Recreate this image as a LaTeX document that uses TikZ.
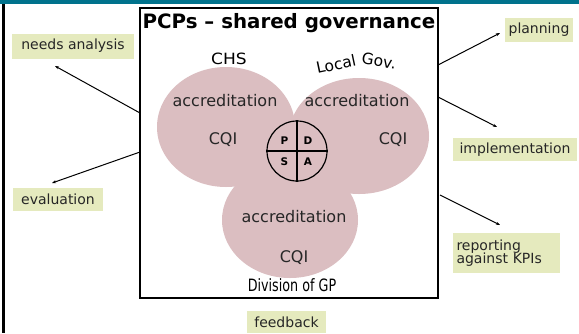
\documentclass[tikz,border=0pt]{standalone}
\usepackage{fontspec}
\setmainfont{DejaVu Sans}
\usetikzlibrary{arrows.meta}
\definecolor{teal1}{HTML}{00728C}
\definecolor{pinkc}{HTML}{DBBEC1}
\definecolor{lab}{HTML}{E5EABE}
\tikzset{
  lbl/.style={fill=lab,inner sep=0pt,font=\fontsize{14}{16}\selectfont,text=black!85},
  conn/.style={line width=1pt,-{Stealth[length=4pt,width=3pt]}},
  blob/.style={fill=pinkc,draw=none},
  body/.style={font=\fontsize{16}{18}\selectfont,text=black!85},
  pd/.style={font=\bfseries\fontsize{10.5}{12}\selectfont,text=black},
  wa/.style={font=\fontsize{15.5}{17}\selectfont},
}
\begin{document}
\begin{tikzpicture}[x=1pt,y=-1pt]
\useasboundingbox (0,0) rectangle (579,333);
\fill[white] (0,0) rectangle (579,333);
\fill[teal1] (0,0) rectangle (579,4);
\fill[black] (2,4) rectangle (4.5,333);
% blobs
\fill[blob] (226,127) ellipse [x radius=69,y radius=60];
\fill[blob] (359,136) ellipse [x radius=70,y radius=58];
\fill[blob] (290,220) ellipse [x radius=68,y radius=58];
\fill[blob] (297,151) circle [radius=32];
% main box
\node[draw,line width=2pt,minimum width=298,minimum height=290,inner sep=0pt] (box) at (289,153) {};
\node[font=\bfseries\fontsize{19.8}{22}\selectfont] (title) at (289,23) {PCPs – shared governance};
% circle labels
\node[wa,xscale=1.1] (chs) at (229,59) {CHS};
\node[wa,rotate=12] (lgov1) at (336,64) {Local};
\node[wa,rotate=-9] (lgov2) at (379,61) {Gov.};
\node[font=\fontsize{17}{18}\selectfont,xscale=0.75] (div) at (292,285) {Division of GP};
% texts
\node[body] (acc1) at (225,101) {accreditation};
\node[body] (cqi1) at (223,140) {CQI};
\node[body] (acc2) at (357,101) {accreditation};
\node[body] (cqi2) at (393,140) {CQI};
\node[body] (acc3) at (294,217) {accreditation};
\node[body] (cqi3) at (294,258) {CQI};
% PDSA
\node[circle,draw,fill=pinkc,line width=1.2pt,minimum size=60,inner sep=0pt] (pdsa) at (297,151) {};
\draw[line width=1.2pt] (pdsa.north) -- (pdsa.south) (pdsa.west) -- (pdsa.east);
\node[pd] (p) at (284.5,140.5) {P};
\node[pd] (d) at (308,140.5) {D};
\node[pd] (s) at (284.5,162) {S};
\node[pd] (a) at (308,162) {A};
% labels
\node[lbl,minimum width=122,minimum height=25] (needs) at (73,46) {needs analysis};
\node[lbl,minimum width=68,minimum height=24] (plan) at (539,30) {planning};
\node[lbl,minimum width=124,minimum height=23] (impl) at (515,149.5) {implementation};
\node[lbl,minimum width=90,minimum height=23] (eval) at (58,199.5) {evaluation};
\node[lbl,minimum width=107,minimum height=40,align=left,text width=100] (rep) at (506.5,253) {reporting\\[-3pt]against KPIs};
\node[lbl,minimum width=79,minimum height=22] (fb) at (286.5,322) {feedback};
% connectors
\coordinate (n1) at (140,113); \coordinate (n2) at (55,66);
\coordinate (e1) at (140,152); \coordinate (e2) at (52,183);
\coordinate (p1) at (438,65); \coordinate (p2) at (500,33);
\coordinate (i1) at (438,97); \coordinate (i2) at (497,127);
\coordinate (r1) at (440,195); \coordinate (r2) at (500,225);
\draw[conn] (n1) -- (n2);
\draw[conn] (e1) -- (e2);
\draw[conn] (p1) -- (p2);
\draw[conn] (i1) -- (i2);
\draw[conn] (r1) -- (r2);
\end{tikzpicture}
\end{document}
